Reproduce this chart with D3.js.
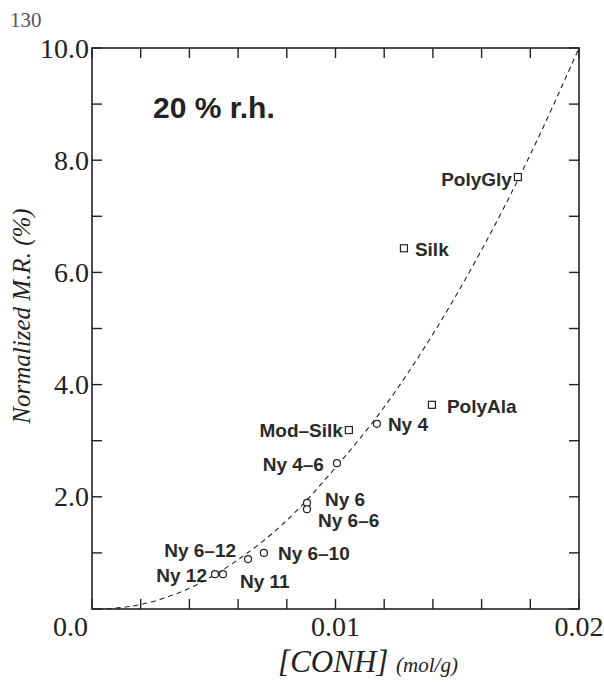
<!DOCTYPE html>
<html>
<head>
<meta charset="utf-8">
<script src="https://cdn.jsdelivr.net/npm/d3@7"></script>
<style>
  body { margin: 0; background: #fff; }
  text { fill: #222; }
</style>
</head>
<body>
<script>
// samples
var names = ["PolyGly", "Silk", "PolyAla", "Mod\u2013Silk", "Ny 4", "Ny 4\u20136", "Ny 6", "Ny 6\u20136", "Ny 6\u201310", "Ny 6\u201312", "Ny 11", "Ny 12"];
var conh = [0.01749, 0.01281, 0.01396, 0.01055, 0.01170, 0.01006, 0.00883, 0.00883, 0.00706, 0.00641, 0.00538, 0.00505];
var mr = [7.70, 6.43, 3.64, 3.19, 3.30, 2.60, 1.89, 1.78, 1.00, 0.89, 0.62, 0.62];
var kinds = ["square", "square", "square", "square", "circle", "circle", "circle", "circle", "circle", "circle", "circle", "circle"];

// dashed fitted curve
var curveX = [0.0006, 0.002, 0.004, 0.006, 0.008, 0.010, 0.012, 0.014, 0.016, 0.018, 0.020];
var curveY = [0.0, 0.08, 0.37, 0.88, 1.58, 2.52, 3.6, 4.9, 6.4, 8.1, 10.0];

var xTickLabels = ["0.0", "0.01", "0.02"];
var yTickLabels = ["2.0", "4.0", "6.0", "8.0", "10.0"];

// label placement: dx, dy, anchor
var labelPos = {
  "PolyGly": [-6, 9, "end"],
  "Silk": [11, 8, "start"],
  "PolyAla": [15, 8, "start"],
  "Mod\u2013Silk": [-6, 7, "end"],
  "Ny 4": [11, 7, "start"],
  "Ny 4\u20136": [-13, 8, "end"],
  "Ny 6": [18, 3, "start"],
  "Ny 6\u20136": [11, 18, "start"],
  "Ny 6\u201310": [14, 7, "start"],
  "Ny 6\u201312": [-12, -2, "end"],
  "Ny 11": [17, 14, "start"],
  "Ny 12": [-8, 8, "end"]
};

var margin = {top: 48, right: 25, bottom: 74, left: 92};
var width = 604 - margin.left - margin.right;
var height = 683 - margin.top - margin.bottom;

var x = d3.scaleLinear().domain([0, 0.02]).range([0, width]);
var y = d3.scaleLinear().domain([0, 10]).range([height, 0]);

var root = d3.select("body").append("svg")
  .attr("width", 604)
  .attr("height", 683);

root.append("text")
  .attr("x", 10)
  .attr("y", 27)
  .style("font-family", "Liberation Serif")
  .style("font-size", "21px")
  .style("fill", "#555")
  .text("130");

var svg = root.append("g")
  .attr("transform", "translate(" + margin.left + "," + margin.top + ")");

var xTicks = d3.range(0, 11).map(function(i) { return i * 0.002; });
var yTicks = d3.range(0, 11);

// inner ticks on all four sides
var tick = 10;
svg.selectAll(".xtb").data(xTicks).enter().append("line")
  .attr("x1", function(d) { return x(d); }).attr("x2", function(d) { return x(d); })
  .attr("y1", height).attr("y2", height - tick);
svg.selectAll(".xtt").data(xTicks).enter().append("line")
  .attr("x1", function(d) { return x(d); }).attr("x2", function(d) { return x(d); })
  .attr("y1", 0).attr("y2", tick);
svg.selectAll(".ytl").data(yTicks).enter().append("line")
  .attr("y1", function(d) { return y(d); }).attr("y2", function(d) { return y(d); })
  .attr("x1", 0).attr("x2", tick);
svg.selectAll(".ytr").data(yTicks).enter().append("line")
  .attr("y1", function(d) { return y(d); }).attr("y2", function(d) { return y(d); })
  .attr("x1", width).attr("x2", width - tick);
svg.selectAll("line").style("stroke", "#222").style("stroke-width", 1.4);

svg.append("rect")
  .attr("width", width)
  .attr("height", height)
  .style("fill", "none")
  .style("stroke", "#222")
  .style("stroke-width", 1.6);

// tick labels; the shared 0.0 sits below-left of the origin
svg.selectAll(".xl").data(xTickLabels).enter().append("text")
  .attr("x", function(d) { return +d === 0 ? x(0) - 4 : x(+d); })
  .attr("y", height + 27)
  .attr("text-anchor", function(d) { return +d === 0 ? "end" : "middle"; })
  .style("font-family", "Liberation Serif")
  .style("font-size", "28px")
  .text(function(d) { return d; });

svg.selectAll(".yl").data(yTickLabels).enter().append("text")
  .attr("x", -3)
  .attr("y", function(d) { return y(+d); })
  .attr("dy", "0.34em")
  .attr("text-anchor", "end")
  .style("font-family", "Liberation Serif")
  .style("font-size", "28px")
  .text(function(d) { return d; });

// axis titles
var xt = root.append("text")
  .attr("x", 368)
  .attr("y", 672)
  .attr("text-anchor", "middle")
  .style("font-family", "Liberation Serif")
  .style("font-style", "italic");
xt.append("tspan").style("font-size", "31px").text("[CONH] ");
xt.append("tspan").style("font-size", "21px").text("(mol/g)");

root.append("text")
  .attr("transform", "translate(30,316) rotate(-90)")
  .attr("text-anchor", "middle")
  .style("font-family", "Liberation Serif")
  .style("font-style", "italic")
  .style("font-size", "25px")
  .text("Normalized M.R. (%)");

svg.append("text")
  .attr("x", 61)
  .attr("y", 70)
  .style("font-family", "Liberation Sans")
  .style("font-weight", "bold")
  .style("font-size", "30px")
  .style("fill", "#222")
  .text("20 % r.h.");

// fitted curve
var line = d3.line()
  .x(function(d) { return x(d[0]); })
  .y(function(d) { return y(d[1]); })
  .curve(d3.curveMonotoneX);

svg.append("path")
  .datum(d3.zip(curveX, curveY))
  .attr("d", line)
  .style("fill", "none")
  .style("stroke", "#222")
  .style("stroke-width", 1.1)
  .style("stroke-dasharray", "5,4");

var pts = names.map(function(n, i) {
  return {name: n, x: conh[i], y: mr[i], kind: kinds[i]};
});

svg.selectAll(".sq").data(pts.filter(function(d) { return d.kind === "square"; }))
  .enter().append("rect")
  .attr("x", function(d) { return x(d.x) - 3.5; })
  .attr("y", function(d) { return y(d.y) - 3.5; })
  .attr("width", 7)
  .attr("height", 7)
  .style("fill", "#fff")
  .style("stroke", "#222")
  .style("stroke-width", 1.2);

svg.selectAll(".ci").data(pts.filter(function(d) { return d.kind === "circle"; }))
  .enter().append("circle")
  .attr("cx", function(d) { return x(d.x); })
  .attr("cy", function(d) { return y(d.y); })
  .attr("r", 3.5)
  .style("fill", "#fff")
  .style("stroke", "#222")
  .style("stroke-width", 1.2);

svg.selectAll(".lab").data(pts).enter().append("text")
  .attr("x", function(d) { return x(d.x) + labelPos[d.name][0]; })
  .attr("y", function(d) { return y(d.y) + labelPos[d.name][1]; })
  .attr("text-anchor", function(d) { return labelPos[d.name][2]; })
  .style("font-family", "Liberation Sans")
  .style("font-weight", "bold")
  .style("font-size", "19px")
  .style("fill", "#2a2a2a")
  .text(function(d) { return d.name; });
</script>
</body>
</html>
